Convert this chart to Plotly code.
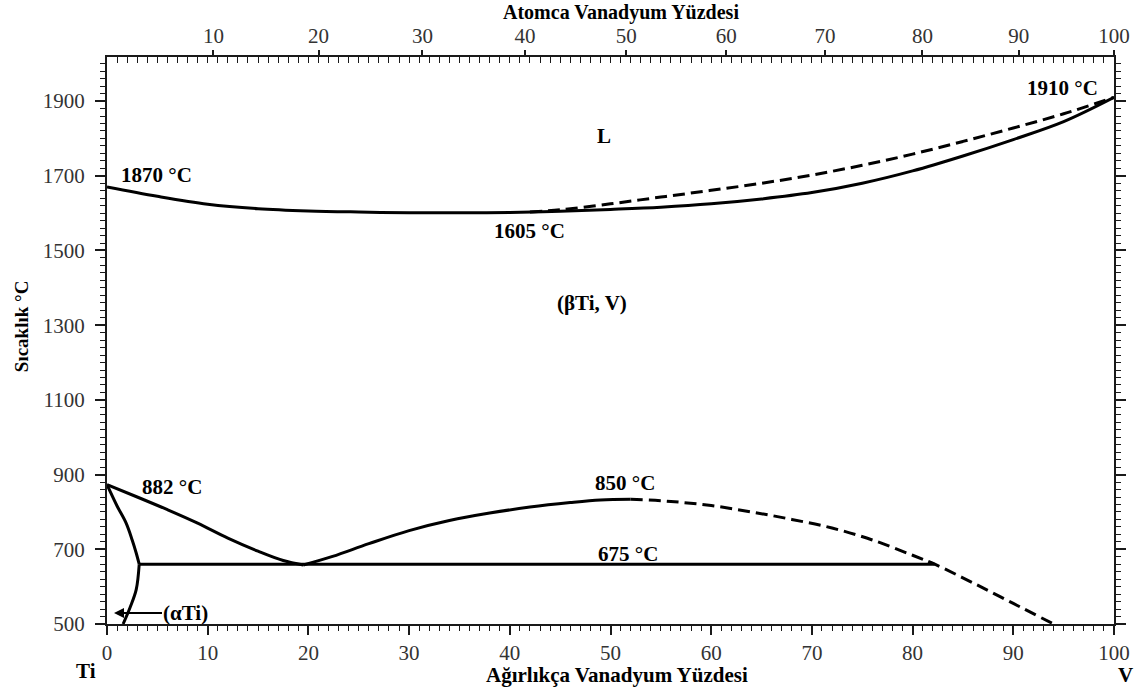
import plotly.graph_objects as go

TI_MASS = 47.867
V_MASS = 50.942

# ---------------- data (x = wt% V, y = temperature in °C) ----------------
solidus_x = [0, 5, 10, 15, 20, 25, 30, 35, 40, 45, 50, 55, 60, 65, 70, 75, 80, 85, 90, 95, 100]
solidus_T = [1670, 1645, 1624, 1612, 1606, 1603, 1601, 1601, 1602, 1605, 1610, 1616, 1625, 1638,
             1655, 1680, 1713, 1753, 1797, 1845, 1910]

liquidus_x = [42, 45, 50, 55, 60, 65, 70, 75, 80, 85, 90, 95, 100]
liquidus_T = [1603, 1609, 1625, 1643, 1661, 1680, 1702, 1728, 1758, 1792, 1828, 1866, 1910]

transus_x = [0, 3, 6, 9, 12, 15, 17.5, 19.5]
transus_T = [873, 840, 806, 770, 730, 695, 670, 658]

gap_solid_x = [19.5, 22.4, 26, 30, 34, 38, 42, 46, 49, 52]
gap_solid_T = [658, 681, 715, 750, 777, 797, 813, 825, 832, 834]

gap_dash_x = [52, 56, 60, 64, 68, 72, 76, 80, 82.2, 86, 90, 94]
gap_dash_T = [834, 828, 817, 800, 780, 757, 725, 684, 660, 610, 555, 500]

alpha_up_x = [0, 1, 1.9, 2.5, 2.9, 3.2]
alpha_up_T = [873, 816, 770, 725, 690, 660]
alpha_low_x = [3.2, 2.9, 2.3, 1.6]
alpha_low_T = [660, 592, 545, 500]

eutectoid_x = [3.2, 82.2]
eutectoid_T = [660, 660]

# axis ticks
wt_ticks = list(range(0, 101, 10))
temp_ticks = list(range(500, 2000, 200))
at_ticks = list(range(10, 101, 10))


def at_to_wt(a):
    m = a * V_MASS
    return 100.0 * m / (m + (100 - a) * TI_MASS)


at_tick_pos = [at_to_wt(a) for a in at_ticks]

SERIF = "Liberation Serif, Times New Roman, serif"
LINE_W = 3

fig = go.Figure()


def add_line(x, y, dash="solid", shape="spline"):
    fig.add_trace(go.Scatter(x=x, y=y, mode="lines",
                             line=dict(color="black", width=LINE_W, dash=dash, shape=shape,
                                       smoothing=1.0),
                             hoverinfo="skip", showlegend=False))


add_line(solidus_x, solidus_T)
add_line(liquidus_x, liquidus_T, dash="12px,6px")
add_line(transus_x, transus_T)
add_line(gap_solid_x, gap_solid_T)
add_line(gap_dash_x, gap_dash_T, dash="12px,6px")
add_line(alpha_up_x, alpha_up_T)
add_line(alpha_low_x, alpha_low_T)
add_line(eutectoid_x, eutectoid_T, shape="linear")

# invisible trace so the secondary (top / right) axes are drawn
fig.add_trace(go.Scatter(x=[0], y=[500], xaxis="x2", yaxis="y2", mode="markers",
                         marker=dict(opacity=0), hoverinfo="skip", showlegend=False))

Y_RANGE = [500, 2018]
AX_COLOR = "#1a1a1a"
TICK_FONT = dict(family=SERIF, size=21, color="#333")

fig.update_layout(
    width=1142, height=688,
    margin=dict(l=107, r=26, t=57, b=64),
    paper_bgcolor="white", plot_bgcolor="white",
    xaxis=dict(range=[0, 100], tickmode="array", tickvals=wt_ticks,
               ticks="outside", ticklen=9, tickwidth=1.5, tickcolor=AX_COLOR,
               minor=dict(dtick=1, ticks="outside", ticklen=5, tickcolor=AX_COLOR, tickwidth=1),
               showline=True, linewidth=2, linecolor=AX_COLOR, showgrid=False, zeroline=False,
               tickfont=TICK_FONT, ticklabelstandoff=0),
    xaxis2=dict(range=[0, 100], overlaying="x", side="top", tickmode="array",
                tickvals=at_tick_pos, ticktext=[str(a) for a in at_ticks],
                ticks="outside", ticklen=5, tickwidth=1.5, tickcolor=AX_COLOR,
                minor=dict(tickvals=list(range(1, 100)), ticks="inside", ticklen=6,
                           tickcolor=AX_COLOR, tickwidth=1),
                showline=True, linewidth=2, linecolor=AX_COLOR, showgrid=False, zeroline=False,
                tickfont=TICK_FONT, ticklabelstandoff=-1),
    yaxis=dict(range=Y_RANGE, tickmode="array", tickvals=temp_ticks,
               ticks="outside", ticklen=10, tickwidth=1.5, tickcolor=AX_COLOR,
               minor=dict(dtick=20, tick0=500, ticks="outside", ticklen=5, tickcolor=AX_COLOR,
                          tickwidth=1),
               showline=True, linewidth=2, linecolor=AX_COLOR, showgrid=False, zeroline=False,
               tickfont=TICK_FONT, ticklabelstandoff=6),
    yaxis2=dict(range=Y_RANGE, overlaying="y", side="right", tickmode="array",
                tickvals=temp_ticks, showticklabels=False,
                ticks="outside", ticklen=10, tickwidth=1.5, tickcolor=AX_COLOR,
                minor=dict(dtick=20, tick0=500, ticks="outside", ticklen=5, tickcolor=AX_COLOR,
                           tickwidth=1),
                showline=True, linewidth=2, linecolor=AX_COLOR, showgrid=False, zeroline=False),
)


def px_x(px):
    return (px - 107) / 1009.0


def px_y(py):
    return (624 - py) / 567.0


def label(text, px, py, size=21, **kw):
    fig.add_annotation(text="<b>%s</b>" % text, xref="paper", yref="paper",
                       x=px_x(px), y=px_y(py), xanchor="center", yanchor="middle",
                       showarrow=False,
                       font=dict(family=SERIF, size=size, color="black"), **kw)


# axis titles
label("Atomca Vanadyum Yüzdesi", 622, 12, size=20)
label("Ağırlıkça Vanadyum Yüzdesi", 618, 675, size=21)
label("Sıcaklık °C", 21, 326, size=19, textangle=-90)
label("Ti", 86, 671, size=21)
label("V", 1128, 675, size=21)

# in-plot labels
label("1870 °C", 157, 175)
label("L", 605, 136)
label("1910 °C", 1064, 88)
label("1605 °C", 530, 231)
label("(βTi, V)", 593, 303)
label("882 °C", 172, 487)
label("850 °C", 626, 483)
label("675 °C", 629, 554)

# (αTi) with arrow pointing to the alpha-Ti phase boundary
fig.add_annotation(text="<b>(αTi)</b>", xref="paper", yref="paper",
                   x=px_x(114), y=px_y(613), ax=72, ay=0,
                   showarrow=True, arrowhead=2, arrowsize=1, arrowwidth=2, arrowcolor="black",
                   font=dict(family=SERIF, size=21, color="black"))

fig.write_html("out.html")
